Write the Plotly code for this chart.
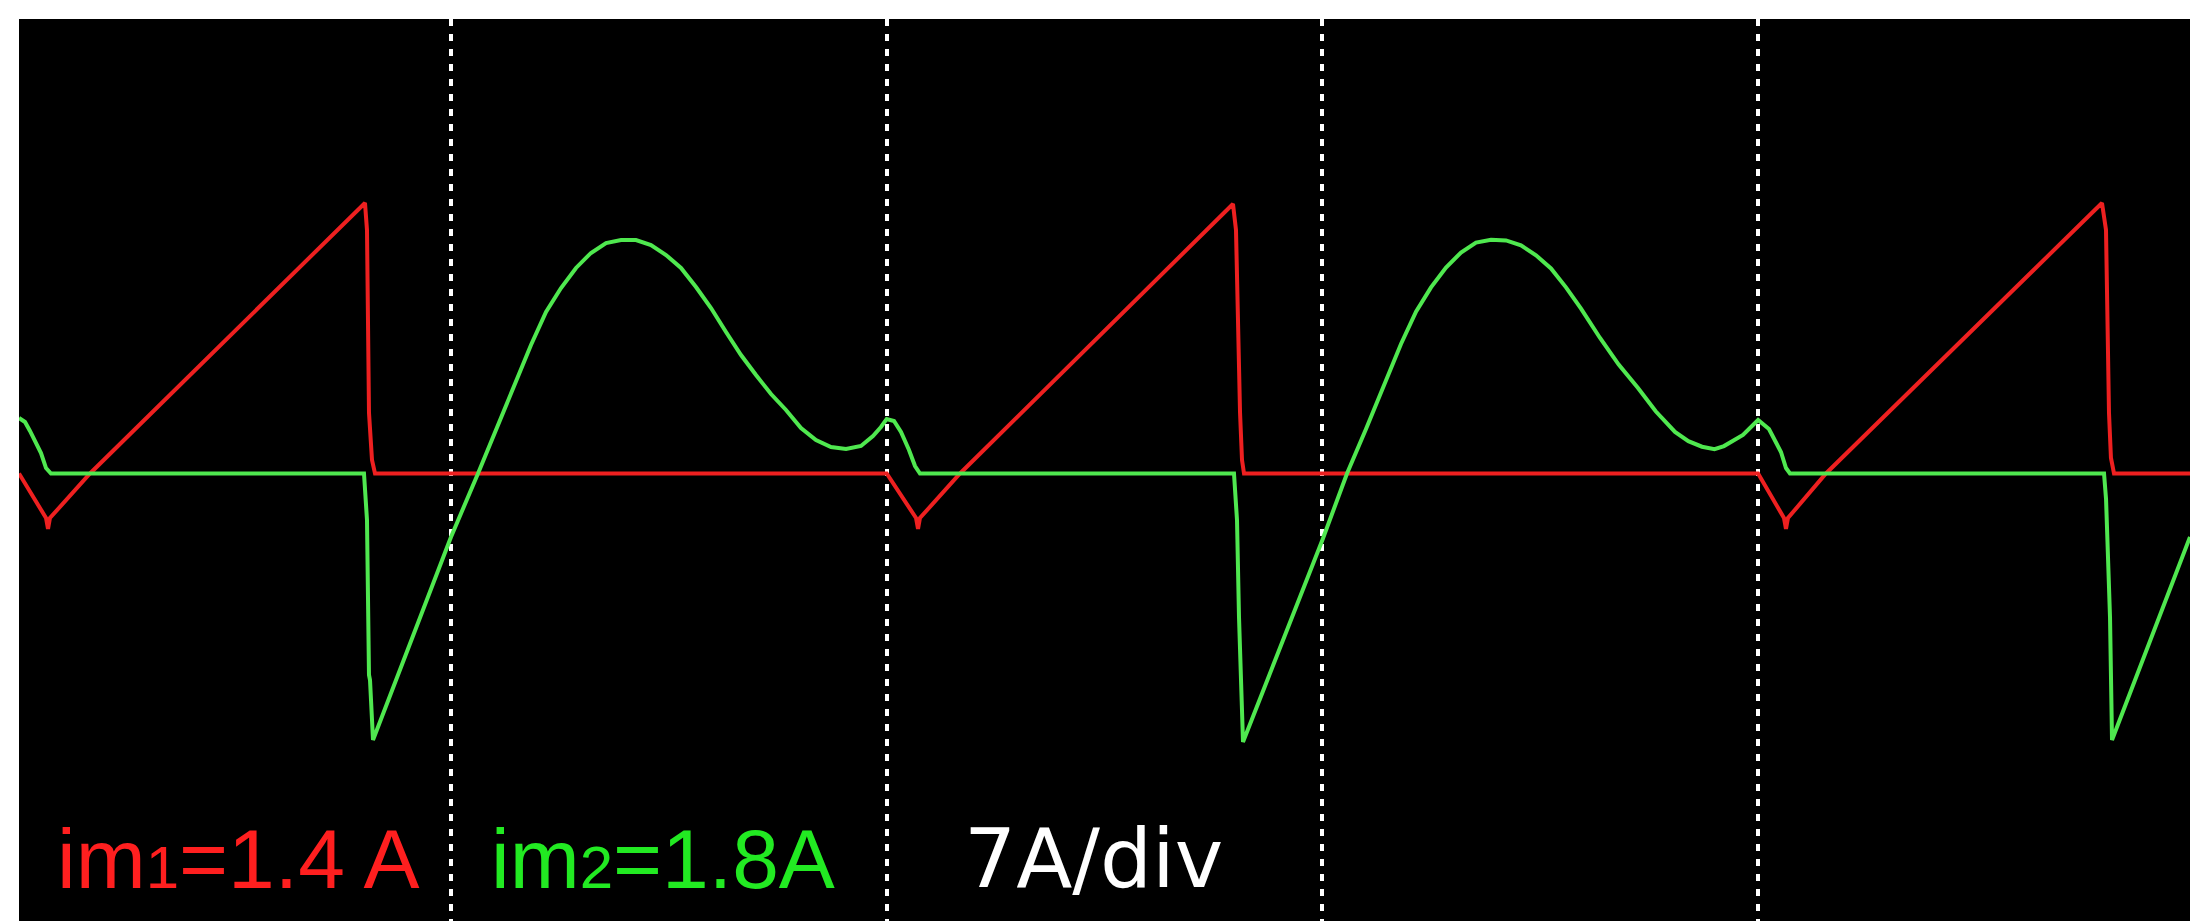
import plotly.graph_objects as go

# time axis in divisions, current in A (7 A/div)
red_x = [0.0085, 0.0705, 0.0751, 0.0796, 0.1715, 0.8026, 0.8072, 0.8118, 0.8187, 0.8256,
         2.0000, 2.0673, 2.0719, 2.0764, 2.1683, 2.7948, 2.8017, 2.8064, 2.8110, 2.8155, 2.8201,
         4.0000, 4.0594, 4.0640, 4.0686, 4.1558, 4.7893, 4.7985, 4.8054, 4.8099, 4.8169, 4.9913]
red_y = [0, -0.715, -0.892, -0.715, 0, 4.346, 3.912, 0.972, 0.217, 0,
         0, -0.715, -0.892, -0.715, 0, 4.330, 3.912, 1.984, 0.972, 0.217, 0,
         0, -0.715, -0.892, -0.715, 0, 4.346, 3.912, 0.972, 0.249, 0, 0]

green_x = [0.0085, 0.0223, 0.0337, 0.0475, 0.0590, 0.0705, 0.0819,
           0.8003, 0.8072, 0.8118, 0.8141, 0.8210,
           1.0000, 1.0620, 1.1033, 1.1492, 1.1836, 1.2181, 1.2525, 1.2869, 1.3213, 1.3558,
           1.3902, 1.4246, 1.4590, 1.4935, 1.5279, 1.5623, 1.5968, 1.6312, 1.6656, 1.7000,
           1.7345, 1.7689, 1.8033, 1.8377, 1.8722, 1.9066, 1.9410, 1.9685, 1.9869, 2.0000,
           2.0168, 2.0328, 2.0512, 2.0650, 2.0764,
           2.7971, 2.8040, 2.8086, 2.8132, 2.8178,
           3.0000, 3.0565, 3.1001, 3.1460, 3.1804, 3.2149, 3.2493, 3.2837, 3.3181, 3.3526,
           3.3870, 3.4214, 3.4558, 3.4903, 3.5247, 3.5591, 3.5936, 3.6372, 3.6800, 3.7244,
           3.7650, 3.8093, 3.8400, 3.8713, 3.9000, 3.9217, 3.9653, 4.0000, 4.0250, 4.0525,
           4.0640, 4.0732,
           4.7940, 4.7986, 4.8077, 4.8123, 4.9913]
green_y = [0.892, 0.827, 0.683, 0.506, 0.329, 0.088, 0,
           0, -0.747, -3.237, -3.318, -4.282,
           -1.020, 0, 0.715, 1.502, 2.064, 2.595, 2.980, 3.302, 3.543, 3.703,
           3.751, 3.751, 3.671, 3.510, 3.302, 2.996, 2.659, 2.273, 1.904, 1.582,
           1.277, 1.020, 0.731, 0.538, 0.426, 0.394, 0.442, 0.602, 0.747, 0.876,
           0.843, 0.667, 0.378, 0.120, 0,
           0, -0.747, -2.305, -3.318, -4.314,
           -1.068, 0, 0.715, 1.502, 2.080, 2.600, 2.990, 3.310, 3.550, 3.710,
           3.755, 3.745, 3.665, 3.505, 3.295, 2.990, 2.650, 2.177, 1.750, 1.374,
           1.000, 0.667, 0.520, 0.430, 0.390, 0.440, 0.619, 0.860, 0.715, 0.345,
           0.088, 0,
           0, -0.410, -2.305, -4.282, -1.020]

grid_x = [1, 2, 3, 4]
x_range = [0.0085, 4.9913]
y_range = [-7.190, 7.302]

labels = [
    ('i<span>m</span><span style="font-size:60px">1</span>=1.4 A', "#ff1f1f", 0.091,
     "Liberation Sans, Arial, sans-serif", 84),
    ('i<span>m</span><span style="font-size:60px">2</span>=1.8A', "#22ea22", 1.087,
     "Liberation Sans, Arial, sans-serif", 84),
    ("7A/div", "#ffffff", 2.173, "DejaVu Sans, sans-serif", 82),
]

fig = go.Figure()
fig.add_trace(go.Scatter(x=red_x, y=red_y, mode="lines",
                         line=dict(color="#ee2020", width=4), hoverinfo="skip"))
fig.add_trace(go.Scatter(x=green_x, y=green_y, mode="lines",
                         line=dict(color="#4fe84f", width=4), hoverinfo="skip"))

for txt, col, xpos, fam, sz in labels:
    fig.add_annotation(x=xpos, y=-6.193, xref="x", yref="y", text=txt,
                       showarrow=False, xanchor="left", yanchor="middle",
                       font=dict(family=fam, size=sz, color=col))

fig.update_layout(
    width=2190, height=921,
    margin=dict(l=19, r=0, t=19, b=0),
    paper_bgcolor="#ffffff", plot_bgcolor="#000000",
    showlegend=False,
    xaxis=dict(range=x_range, showgrid=True, tickvals=grid_x, gridcolor="#ffffff",
               gridwidth=4, griddash="7px,8px", zeroline=False, showticklabels=False,
               ticks="", showline=False, fixedrange=True),
    yaxis=dict(range=y_range, showgrid=False, zeroline=False, showticklabels=False,
               ticks="", showline=False, fixedrange=True),
)

fig.write_html("out.html", config={"displayModeBar": False})
